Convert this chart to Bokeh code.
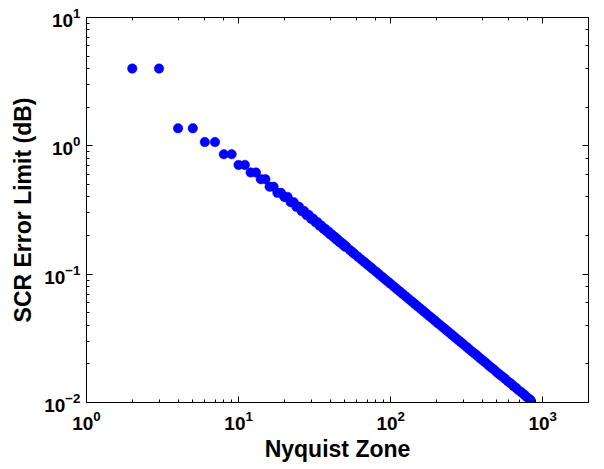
from bokeh.plotting import figure
from bokeh.models import Range1d, LogAxis, LogTicker
from bokeh.embed import file_html
from bokeh.resources import INLINE

# Nyquist zone (x) and SCR error limit in dB (y)
zone = [2, 3, 4, 5, 6, 7, 8, 9, 10, 11, 12, 13, 14, 15, 16, 17, 18, 19,
        20, 21, 22, 23, 24, 25, 26, 27, 28, 29, 30, 31, 32, 33, 34, 35,
        36, 37, 38, 39, 40, 41, 42, 43, 44, 45, 46, 47, 48, 49, 50, 51,
        54, 56, 58, 61, 64, 67, 70, 73, 76, 80, 84, 88, 92, 96, 100,
        105, 110, 115, 120, 126, 132, 138, 144, 150, 157, 164, 171, 179,
        187, 195, 204, 213, 222, 232, 242, 253, 264, 276, 288, 300, 314,
        328, 342, 357, 372, 388, 405, 422, 440, 459, 479, 500, 521, 543,
        566, 590, 615, 641, 668, 696, 725, 755, 787, 820, 832]
scr_err = [4.0, 4.0, 1.37, 1.37, 1.07, 1.07, 0.86, 0.86, 0.71, 0.71,
           0.62, 0.62, 0.55, 0.55, 0.48, 0.48, 0.43, 0.43,
           0.40, 0.40, 0.364, 0.364, 0.335, 0.335, 0.310, 0.310,
           0.289, 0.289, 0.270, 0.270, 0.254, 0.254, 0.239, 0.239,
           0.226, 0.226, 0.215, 0.215, 0.204, 0.204, 0.195, 0.195,
           0.186, 0.186, 0.178, 0.178, 0.171, 0.171, 0.164, 0.164,
           0.1540, 0.1486, 0.1435, 0.1366, 0.1303, 0.1245, 0.1193, 0.1144,
           0.1100, 0.1046, 0.0997, 0.0952, 0.0911, 0.0874, 0.0840,
           0.0800, 0.0764, 0.0732, 0.0702, 0.0669, 0.0639, 0.0612, 0.0587,
           0.0563, 0.0539, 0.0516, 0.0495, 0.0473, 0.0454, 0.0435, 0.0416,
           0.0399, 0.0383, 0.0367, 0.0352, 0.0337, 0.0323, 0.0309, 0.0297,
           0.0285, 0.0272, 0.0261, 0.0250, 0.0240, 0.0231, 0.0221, 0.0212,
           0.0204, 0.0195, 0.0187, 0.0180, 0.0172, 0.0165, 0.0159, 0.0153,
           0.0146, 0.0141, 0.0135, 0.0130, 0.0124, 0.0120, 0.0115, 0.0110,
           0.0106, 0.0104]

x_label = "Nyquist Zone"
y_label = "SCR Error Limit (dB)"

FONT = "Liberation Sans"

p = figure(width=604, height=469, x_axis_type="log", y_axis_type="log",
           x_range=Range1d(1, 2000), y_range=Range1d(0.01, 10),
           output_backend="svg", toolbar_location=None,
           min_border_left=86, min_border_right=16,
           min_border_top=17, min_border_bottom=67)

p.scatter(zone, scr_err, marker="circle", size=9.5,
          fill_color="#0000FF", line_color="#0000FF", line_width=0.5)

p.xgrid.visible = False
p.ygrid.visible = False
p.outline_line_color = "black"
p.outline_line_width = 1
p.background_fill_color = "white"
p.border_fill_color = "white"

def style(ax):
    ax.axis_line_color = "black"
    ax.major_tick_in = 6
    ax.major_tick_out = 0
    ax.minor_tick_in = 3
    ax.minor_tick_out = 0
    ax.major_tick_line_color = "black"
    ax.minor_tick_line_color = "black"
    ax.major_label_text_font = FONT
    ax.major_label_text_font_style = "bold"
    ax.major_label_text_font_size = "19px"
    ax.major_label_text_color = "black"
    ax.axis_label_text_font = FONT
    ax.axis_label_text_font_style = "bold"
    ax.axis_label_text_font_size = "23px"
    ax.axis_label_text_color = "black"

style(p.xaxis[0])
style(p.yaxis[0])
p.xaxis[0].axis_label = x_label
p.yaxis[0].axis_label = y_label
p.xaxis[0].axis_label_standoff = 3
p.yaxis[0].axis_label_standoff = 5
p.xaxis[0].major_label_standoff = 8
p.yaxis[0].major_label_standoff = 6

top = LogAxis(ticker=LogTicker())
right = LogAxis(ticker=LogTicker())
for ax in (top, right):
    style(ax)
    ax.major_label_text_font_size = "1px"
    ax.major_label_text_color = None
    ax.major_label_standoff = 0
p.add_layout(top, "above")
p.add_layout(right, "right")

open("out.html", "w").write(file_html(p, INLINE))
